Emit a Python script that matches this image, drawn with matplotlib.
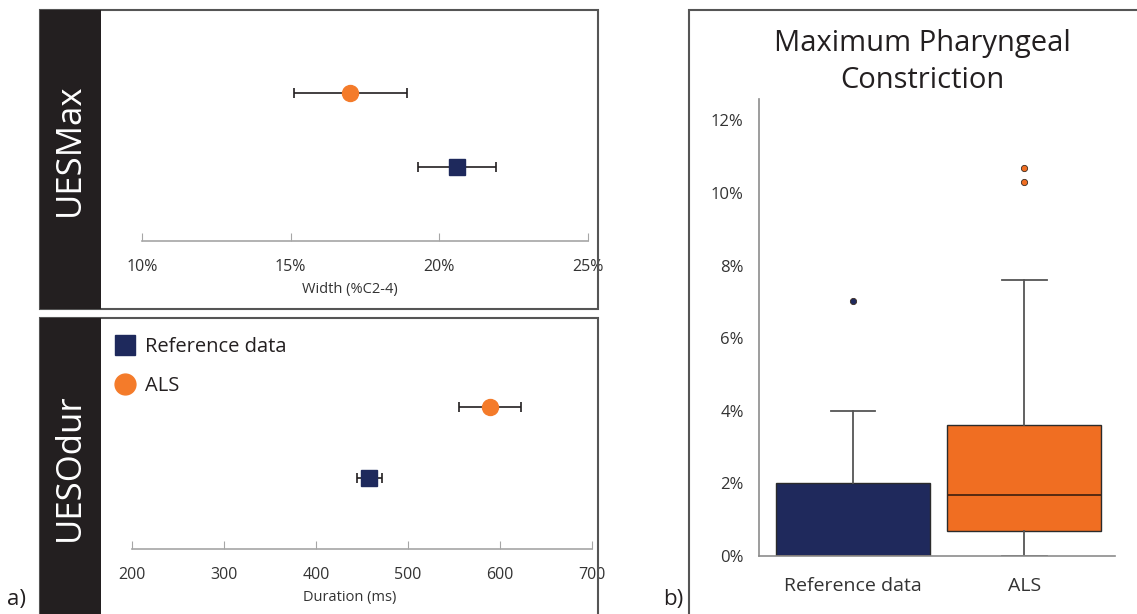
import numpy as np
import matplotlib
matplotlib.use("Agg")
import matplotlib.pyplot as plt
from matplotlib.patches import Rectangle
from matplotlib.lines import Line2D

plt.rcParams['font.family'] = ['Open Sans', 'DejaVu Sans']

# data
groups = ["Reference data", "ALS"]
colors = ["#1e295c", "#f47b2a"]
markers = ["s", "o"]

uesmax_mean = [20.6, 17.0]
uesmax_lo = [19.3, 15.1]
uesmax_hi = [21.9, 18.9]

uesodur_mean = [458, 589]
uesodur_lo = [445, 555]
uesodur_hi = [472, 623]

# box plot summary (%)
box_q1 = [0.0, 0.69]
box_med = [0.0, 1.69]
box_q3 = [2.0, 3.6]
box_whislo = [0.0, 0.0]
box_whishi = [4.0, 7.6]
box_fliers = [[7.03], [10.29, 10.7]]
box_colors = ["#1f295c", "#f06e22"]

W, H = 1137, 614
fig = plt.figure(figsize=(W / 100, H / 100), dpi=100)


def px(x0, y0, x1, y1):
    return [x0 / W, 1 - y1 / H, (x1 - x0) / W, (y1 - y0) / H]


def frame(x0, y0, x1, y1, **kw):
    r = Rectangle((x0 / W, 1 - y1 / H), (x1 - x0) / W, (y1 - y0) / H,
                  transform=fig.transFigure, **kw)
    fig.patches.append(r)


# panel frames and black strips
frame(40, 10, 598, 309, fill=False, edgecolor="#555555", lw=1.5)
frame(40, 318, 598, 620, fill=False, edgecolor="#555555", lw=1.5)
frame(40, 10, 101, 309, facecolor="#231f20", edgecolor="none")
frame(40, 318, 101, 620, facecolor="#231f20", edgecolor="none")
frame(689, 10, 1145, 620, fill=False, edgecolor="#555555", lw=1.5)

fig.text(70 / W, 1 - 150 / H, "UESMax", rotation=90, color="white",
         fontsize=25, ha="center", va="center")
fig.text(70 / W, 1 - 467 / H, "UESOdur", rotation=90, color="white",
         fontsize=25, ha="center", va="center")
fig.text(16 / W, 1 - 600 / H, "a)", fontsize=16, color="#231f20", ha="center", va="center")
fig.text(673 / W, 1 - 600 / H, "b)", fontsize=16, color="#231f20", ha="center", va="center")


def dot_panel(ax, mean, lo, hi, xlim, ylim, ticks, labels, xlabel):
    ax.set_xlim(*xlim)
    ax.set_ylim(*ylim)
    ax.patch.set_alpha(0)
    for s in ["top", "left", "right"]:
        ax.spines[s].set_visible(False)
    ax.spines["bottom"].set_position(("data", 0))
    ax.spines["bottom"].set_bounds(ticks[0], ticks[-1])
    ax.spines["bottom"].set_color("#a6a6a6")
    ax.spines["bottom"].set_linewidth(1.2)
    ax.set_yticks([])
    ax.set_xticks(ticks)
    ax.set_xticklabels(labels)
    ax.tick_params(axis="x", direction="in", length=6, color="#a6a6a6",
                   labelsize=11.5, labelcolor="#333333", pad=13)
    ax.set_xlabel(xlabel, fontsize=10.5, color="#333333", labelpad=5)
    handles = []
    for i in range(len(groups)):
        ax.errorbar(mean[i], i + 1, xerr=[[mean[i] - lo[i]], [hi[i] - mean[i]]],
                    fmt="none", ecolor="#231f20", elinewidth=1.2, capsize=3.5,
                    capthick=1.2, zorder=2)
        ax.plot(mean[i], i + 1, marker=markers[i], color=colors[i],
                markersize=11.5, linestyle="none", zorder=3)
        handles.append(Line2D([], [], marker=markers[i], color=colors[i],
                              markersize=15, linestyle="none", label=groups[i]))
    return handles


ax1 = fig.add_axes(px(101, 10, 598, 309))
dot_panel(ax1, uesmax_mean, uesmax_lo, uesmax_hi, (8.624, 25.336), (-0.919, 3.12),
          [10, 15, 20, 25], ["10%", "15%", "20%", "25%"], "Width (%C2-4)")

ax2 = fig.add_axes(px(101, 318, 598, 614))
h = dot_panel(ax2, uesodur_mean, uesodur_lo, uesodur_hi, (166.4, 706.5), (-0.915, 3.254),
              [200, 300, 400, 500, 600, 700], ["200", "300", "400", "500", "600", "700"],
              "Duration (ms)")
ax2.legend(handles=h, loc="upper left", bbox_to_anchor=(115 / W, 1 - 337 / H),
           bbox_transform=fig.transFigure, frameon=False, fontsize=14.5,
           handlelength=1.0, handletextpad=0.5, labelspacing=0.95,
           borderpad=0, borderaxespad=0, labelcolor="#231f20")

# box plot panel
ax3 = fig.add_axes(px(759, 99, 1115, 556))
stats = []
for i in range(len(groups)):
    stats.append(dict(q1=box_q1[i], med=box_med[i], q3=box_q3[i],
                      whislo=box_whislo[i], whishi=box_whishi[i],
                      fliers=box_fliers[i], label=groups[i]))
bp = ax3.bxp(stats, positions=[1, 2], widths=0.9, patch_artist=True,
             showfliers=True, manage_ticks=False,
             boxprops=dict(edgecolor="#2b2b2b", linewidth=1.0),
             whiskerprops=dict(color="#555555", linewidth=1.3),
             capprops=dict(color="#555555", linewidth=1.3),
             medianprops=dict(color="#4a2410", linewidth=1.3),
             capwidths=0.26)
for patch, c in zip(bp["boxes"], box_colors):
    patch.set_facecolor(c)
for fl, c in zip(bp["fliers"], ["#1f295c", "#f06e22"]):
    fl.set_marker("o")
    fl.set_markerfacecolor(c)
    fl.set_markeredgecolor("#3a2a20")
    fl.set_markeredgewidth(0.6)
    fl.set_markersize(4.5)

ax3.set_xlim(0.45, 2.53)
ax3.set_ylim(0, 12.59)
ax3.set_yticks(np.arange(0, 13, 2))
ax3.set_yticklabels([f"{v}%" for v in range(0, 13, 2)])
ax3.set_xticks([1, 2])
ax3.set_xticklabels(groups)
ax3.tick_params(axis="y", length=0, pad=11, labelsize=12, labelcolor="#333333")
ax3.tick_params(axis="x", length=0, pad=15, labelsize=14, labelcolor="#333333")
for s in ["top", "right"]:
    ax3.spines[s].set_visible(False)
for s in ["left", "bottom"]:
    ax3.spines[s].set_color("#8c8c8c")
    ax3.spines[s].set_linewidth(1.2)
ax3.patch.set_alpha(0)

fig.text(922 / W, 1 - 62 / H, "Maximum Pharyngeal\nConstriction", fontsize=21,
         ha="center", va="center", color="#231f20", linespacing=1.38)

fig.savefig("out.png", dpi=100)
